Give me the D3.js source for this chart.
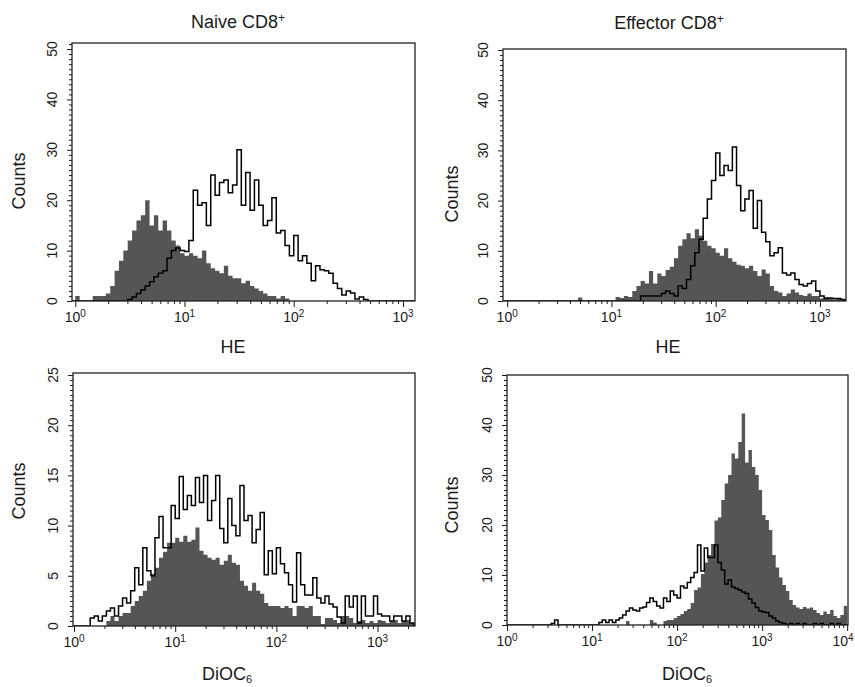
<!DOCTYPE html>
<html>
<head>
<meta charset="utf-8">
<title>CD8 HE / DiOC6 histograms</title>
<script src="https://d3js.org/d3.v7.min.js"></script>
<style>
  body { margin: 0; background: #fff; }
  svg { font-family: "Liberation Sans", Arial, Helvetica, sans-serif; }
</style>
</head>
<body>
<svg width="855" height="687"></svg>
<script>
// every count below is one bin of width binStep in log10 units, first bin starts at 10^0
const binStep = 0.04;

// Naive CD8+, HE
const naiveHeFill = [1,0,0,0,1,1,1,1.5,3,6,8,10,12,14,16,17,20,15,17,14,16,14,12,11,9.5,9,9.5,9,8.5,10,
  7.5,6.5,6,5.5,7,5,4.5,4.5,3.5,4,3,2.5,2,1.5,1,1,0.5,1,0.5];
const naiveHeLine = [0,0,0,0,0,0,0,0,0,0,0,0,
  0.3,0.8,1.5,2.2,3,3.8,4.8,5.5,6,8.5,10,10.5,10,9.8,12,22,19,19.5,15,25,21,23.5,24,21.5,23,30,19,25.5,
  18,24,19,15,16,20.5,13.5,14,11,9,13,8,9,7.5,4,7,6.2,6,5.5,3.5,2.5,1.2,2,1.6,0.4,0.8,0.3];

// Effector CD8+, HE
const effHeFill = [0,0,0,0,0,0,0,0,0,0,0,0,0,0,0,0,0,0.7,0,0,0,0,0,0,0,0,
  0.8,0.6,1,0.8,2,3,4,3.5,6,3.5,5.5,5,6.2,6.8,8.5,11,12.3,13.5,12.5,14.3,13,12,11,10.5,9.6,9,10.5,8.5,
  7.8,7.2,7,6.5,7,6,5,6.3,5.5,3,2,1.7,1,1.5,2.3,1.7,1.2,1,1.5,1,1,0.5,0.8,0.5,0.3,0.5,0.3];
const effHeLine = [0,0,0,0,0,0,0,0,0,0,0,0,0,0,0,0,0,0,0,0,0,0,0,0,0,0,0,0,0,0,0,0,
  1,1,1,1,1,1.5,2,1.5,1,3,2.5,4.3,7,9.6,12.3,16.5,20.3,24,29.5,25,27,26,30.7,23,18,20.3,22,14.5,20,
  13.7,11.8,9,9.6,10.6,5.6,5.2,5.6,4.3,3.3,3,3.5,4,2,1,0.5,0.6,0.5,0.5,0.3];

// Naive CD8+, DiOC6
const naiveDioFill = [0,0,0,0,0,0,0,0,
  0.5,1,0.5,1,1.3,1.3,2,2.5,3,3.5,4.5,5.2,5.8,6.8,7.4,8.3,8.3,8.8,8.4,9,8.4,8.6,9.8,7.5,7.1,6.8,6.6,
  6.8,6.1,6.5,7.1,6.3,6.1,4.5,4,3.5,4.3,3.5,3.2,2.3,2,2,2,1.8,2,1.8,1,2,2,1.8,2,1,1,0.2,0.8,0.8,0.6,
  0.3,1,1,0.8,0.3,0.5,0.6,0.3,0.5,0.3,0.6,0.5,0.3,0.5,0.6,0.3,0.5,0.6,0.3];
const naiveDioLine = [0,0,0,0,
  0.8,1,0.5,1,1.5,1.8,1,2,2.8,2.3,3.5,5.8,4.1,7.8,5.5,5,8.8,10.9,7.8,7.8,12,10.7,14.9,11.6,13,12,14.8,
  12.3,15,10.5,12.5,15,9.7,8.3,12.7,10,9,14,10.5,11,8.3,9.6,11.3,5.1,7.5,5.2,7.8,6.2,5.3,4.1,2.4,7.3,
  4.1,3.1,3.1,4.8,2.8,2.3,3,2.2,1.9,0.9,0.3,3,1.9,3,0.3,3,1,1,3,1.2,1,1,0.5,1,1,0.5,1,0.3];

// Effector CD8+, DiOC6
const effDioFill = [0,0,0,0,0,0,0,0,0,0,0,0,0,0,0,0,0,0,0,0,0,0,0,0,0,0,0,0,0,0,0,0,0,0,0,
  0.8,0,0,0,0,0,0,1,0.5,0,0,
  0.8,1,1,1.4,1.8,2.2,2.8,3.2,4.4,7,7.5,10.2,12.5,14,16.2,20.9,21.5,25,28.3,30,34.3,33.3,36.6,42.3,
  32.5,35,31.6,30,27,22,21,19,14,11.5,9.5,8,6.8,5,4,3.5,3.2,3.6,3.3,3.5,3,2.4,2,2.7,2.2,3,1.8,1.4,2,3.8];
const effDioLine = [0,0,0,0,0,0,0,0,0,0,0,0,0,0.3,1,0,0,0,0,0,0,0,0,0,0,0,0,
  0.5,1,0.5,1,0.5,1,1.4,2,2.8,3.4,3,2.8,3.4,3.6,4.5,5.4,4.7,3.8,3.4,5.4,4.7,6.8,6,5.4,7.8,7.4,8.5,9.5,
  10.5,16,10.8,15.4,13.5,13.5,16,12.5,11,8.2,9,7.6,7.3,7,6.6,6.3,5.2,4.4,3.5,2.8,2.6,2.5,1.8,1.4,0.8,
  0.5,0.3,0,0.3,0,0.3,0,0.3,0,0,0.3,0,0.3,0,0,0.3,0,0.3,0,0];

const panels = [
  { fill: naiveHeFill, line: naiveHeLine, left: 72, right: 415, top: 43, bottom: 301,
    xMin: -0.03, xMax: 3.11, yMax: 51.2, yStep: 10, yMinor: 1,
    title: "Naive CD8", titleX: 238, titleY: 28,
    xLabel: "HE", xSub: "", xLabelX: 233, xLabelY: 353, countsX: 19, countsY: 181 },
  { fill: effHeFill, line: effHeLine, left: 503, right: 846, top: 49, bottom: 301,
    xMin: -0.04, xMax: 3.25, yMax: 50.2, yStep: 10, yMinor: 1,
    title: "Effector CD8", titleX: 669, titleY: 29,
    xLabel: "HE", xSub: "", xLabelX: 668, xLabelY: 353, countsX: 452, countsY: 194 },
  { fill: naiveDioFill, line: naiveDioLine, left: 73, right: 415, top: 373, bottom: 626,
    xMin: -0.01, xMax: 3.37, yMax: 25.2, yStep: 5, yMinor: 0.5,
    title: null,
    xLabel: "DiOC", xSub: "6", xLabelX: 227, xLabelY: 680, countsX: 19, countsY: 491 },
  { fill: effDioFill, line: effDioLine, left: 507, right: 848, top: 375, bottom: 625,
    xMin: 0, xMax: 4.01, yMax: 50, yStep: 10, yMinor: 1,
    title: null,
    xLabel: "DiOC", xSub: "6", xLabelX: 687, xLabelY: 680, countsX: 452, countsY: 505 }
];

const svg = d3.select('svg');
const ink = '#1a1a1a';

panels.forEach((p, k) => {
  const x = d3.scaleLog()
    .domain([Math.pow(10, p.xMin), Math.pow(10, p.xMax)])
    .range([p.left, p.right]);
  const y = d3.scaleLinear()
    .domain([0, p.yMax])
    .range([p.bottom, p.top]);

  const nBins = Math.ceil(p.xMax / binStep);
  function toSteps(counts) {
    const pts = [{ v: Math.pow(10, p.xMin), c: 0 }];
    for (let i = 0; i < nBins; i++) pts.push({ v: Math.pow(10, i * binStep), c: counts[i] || 0 });
    pts.push({ v: Math.pow(10, p.xMax), c: 0 });
    return pts;
  }

  const g = svg.append('g');

  g.append('clipPath').attr('id', 'clip' + k)
    .append('rect')
    .attr('x', p.left).attr('y', p.top)
    .attr('width', p.right - p.left).attr('height', p.bottom - p.top);

  const plot = g.append('g').attr('clip-path', `url(#clip${k})`);

  const area = d3.area()
    .x(d => x(d.v))
    .y0(y(0))
    .y1(d => y(d.c))
    .curve(d3.curveStepAfter);

  const line = d3.line()
    .x(d => x(d.v))
    .y(d => y(d.c))
    .curve(d3.curveStepAfter);

  plot.append('path')
    .attr('d', area(toSteps(p.fill)))
    .attr('fill', '#555');

  plot.append('path')
    .attr('d', line(toSteps(p.line)))
    .attr('fill', 'none')
    .attr('stroke', '#000')
    .attr('stroke-width', 1.5);

  // x axis, log ticks
  const majors = [1, 10, 100, 1000, 10000].filter(v => Math.log10(v) <= p.xMax + 1e-6);
  const minors = [];
  majors.forEach(d => {
    for (let m = 2; m <= 9; m++) {
      if (Math.log10(m * d) < p.xMax) minors.push(m * d);
    }
  });

  g.append('g')
    .attr('transform', `translate(0,${p.bottom})`)
    .call(d3.axisBottom(x).tickValues(minors).tickSize(3).tickFormat(''))
    .call(a => a.select('.domain').remove())
    .call(a => a.selectAll('line').attr('stroke', ink));

  g.append('g')
    .attr('transform', `translate(0,${p.bottom})`)
    .call(d3.axisBottom(x).tickValues(majors).tickSize(6).tickFormat(''))
    .call(a => a.select('.domain').remove())
    .call(a => a.selectAll('line').attr('stroke', ink));

  majors.forEach(v => {
    const t = g.append('text')
      .attr('x', Math.min(x(v), 843)).attr('y', p.bottom + 21)
      .attr('text-anchor', 'middle')
      .attr('font-size', 14)
      .attr('fill', ink)
      .text('10');
    t.append('tspan')
      .attr('dy', '-0.5em')
      .attr('font-size', 10)
      .text(Math.round(Math.log10(v)));
  });

  // y axis
  const yMajors = d3.range(0, p.yMax + 0.01, p.yStep).filter(v => v <= p.yMax);
  const yMinors = d3.range(0, p.yMax + 0.001, p.yMinor).filter(v => v % p.yStep !== 0);

  g.append('g')
    .attr('transform', `translate(${p.left},0)`)
    .call(d3.axisLeft(y).tickValues(yMinors).tickSize(3).tickFormat(''))
    .call(a => a.select('.domain').remove())
    .call(a => a.selectAll('line').attr('stroke', ink));

  g.append('g')
    .attr('transform', `translate(${p.left},0)`)
    .call(d3.axisLeft(y).tickValues(yMajors).tickSize(5).tickFormat(''))
    .call(a => a.select('.domain').remove())
    .call(a => a.selectAll('line').attr('stroke', ink));

  yMajors.forEach(v => {
    g.append('text')
      .attr('transform', `translate(${p.left - 20},${y(v)}) rotate(-90)`)
      .attr('text-anchor', 'middle')
      .attr('dy', '0.35em')
      .attr('font-size', 14)
      .attr('fill', ink)
      .text(v);
  });

  // frame
  g.append('rect')
    .attr('x', p.left).attr('y', p.top)
    .attr('width', p.right - p.left).attr('height', p.bottom - p.top)
    .attr('fill', 'none')
    .attr('stroke', '#222')
    .attr('stroke-width', 1.3);

  // labels
  g.append('text')
    .attr('transform', `translate(${p.countsX},${p.countsY}) rotate(-90)`)
    .attr('text-anchor', 'middle')
    .attr('dy', '0.35em')
    .attr('font-size', 18)
    .attr('fill', ink)
    .text('Counts');

  const xl = g.append('text')
    .attr('x', p.xLabelX).attr('y', p.xLabelY)
    .attr('text-anchor', 'middle')
    .attr('font-size', 18)
    .attr('fill', ink)
    .text(p.xLabel);
  if (p.xSub) {
    xl.append('tspan').attr('dy', '0.3em').attr('font-size', 11).text(p.xSub);
  }

  if (p.title) {
    const tt = g.append('text')
      .attr('x', p.titleX).attr('y', p.titleY)
      .attr('text-anchor', 'middle')
      .attr('font-size', 18)
      .attr('fill', ink)
      .text(p.title);
    tt.append('tspan').attr('dy', '-0.5em').attr('font-size', 12).text('+');
  }
});
</script>
</body>
</html>
